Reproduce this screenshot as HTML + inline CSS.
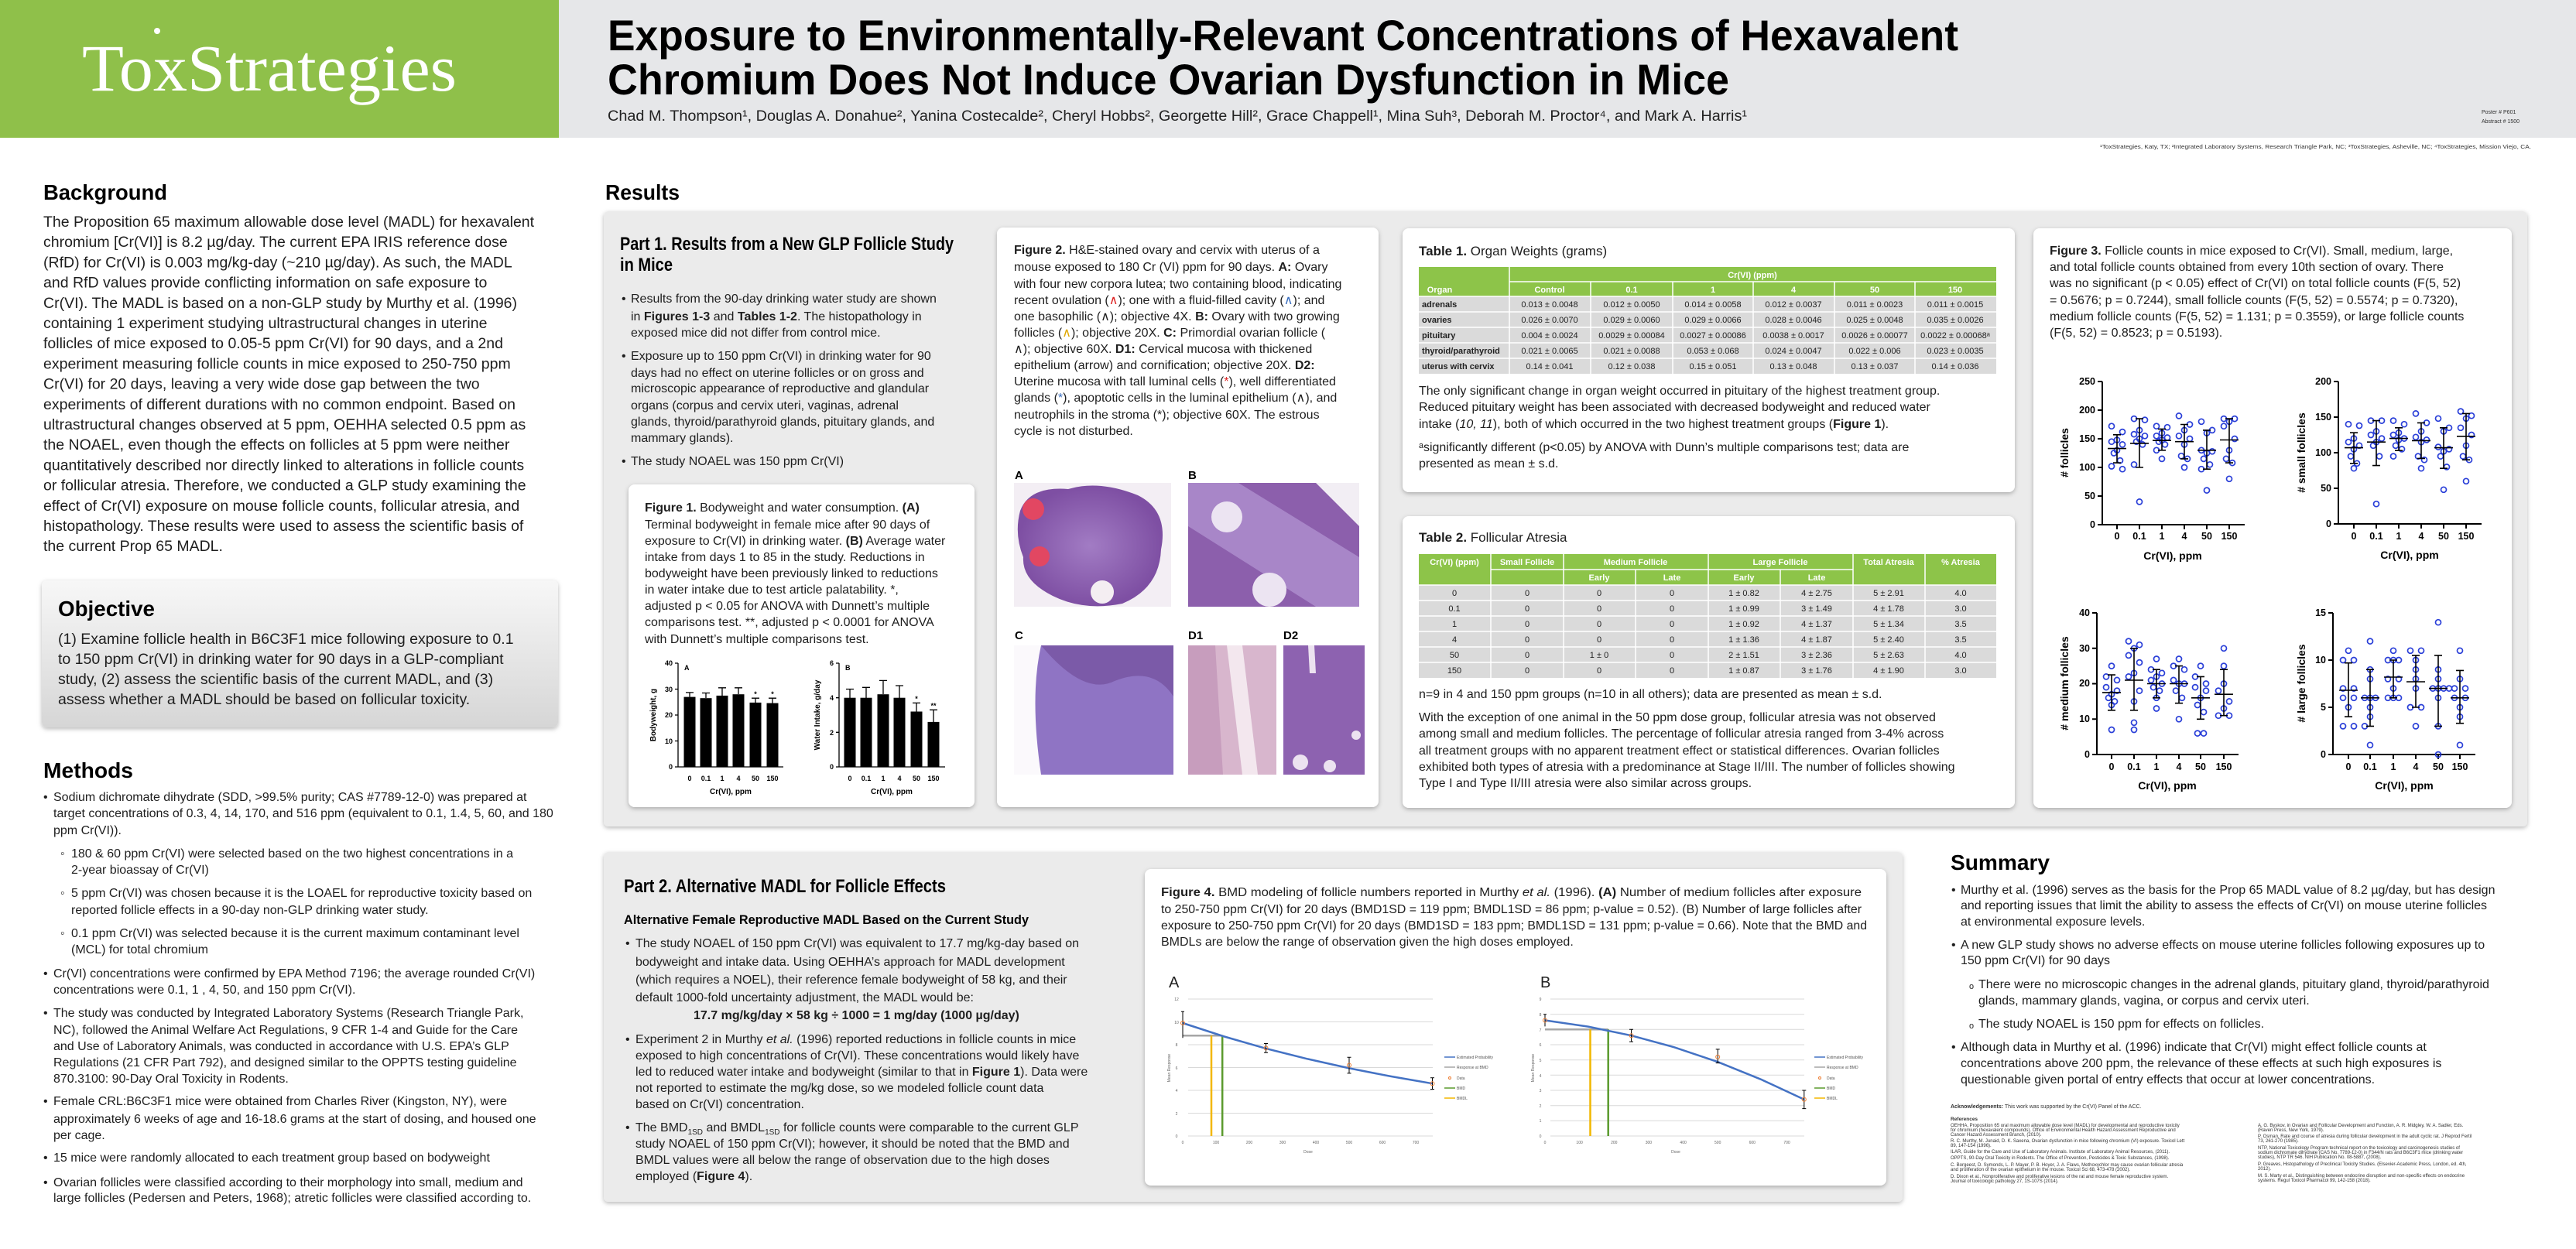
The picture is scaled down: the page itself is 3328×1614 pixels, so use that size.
<!DOCTYPE html>
<html><head><meta charset="utf-8"><style>
html,body{margin:0;padding:0;background:#fff;}
svg{display:block;font-family:"Liberation Sans",sans-serif;}
.t{font-size:16px;fill:#1e1e1e}
.bg{font-size:19.5px;fill:#1e1e1e}
.h{font-weight:bold;fill:#000}
.c{fill:none;stroke:#2a3fd8;stroke-width:1.7}
.m{fill:none;stroke:#000;stroke-width:1.6}
.tk{font-size:12.5px;font-weight:bold;text-anchor:end}
.tx{font-size:12.5px;font-weight:bold;text-anchor:middle}
.tw{font-size:11px;font-weight:bold;fill:#fff;text-anchor:middle}
.td{font-size:11px;fill:#222;text-anchor:middle}
.tl{font-size:11px;font-weight:bold;fill:#222}
.sm{font-size:9px;fill:#222}
.ref{font-size:6px;fill:#333}
.lg{font-size:5px;fill:#555}
</style></head><body>
<svg width="3328" height="1614" viewBox="0 0 3328 1614" xmlns="http://www.w3.org/2000/svg">
<defs>
<filter id="sh" x="-5%" y="-5%" width="110%" height="115%"><feDropShadow dx="0" dy="2" stdDeviation="3" flood-color="#000" flood-opacity="0.28"/></filter>
<linearGradient id="og" x1="0" y1="0" x2="0" y2="1"><stop offset="0" stop-color="#f7f7f7"/><stop offset="1" stop-color="#d6d6d6"/></linearGradient>
<radialGradient id="ov" cx="0.5" cy="0.5" r="0.5"><stop offset="0" stop-color="#a27cc4"/><stop offset="1" stop-color="#7e4fa3"/></radialGradient>
</defs>
<!-- header -->
<rect x="0" y="0" width="722" height="178" fill="#8fc04a"/>
<rect x="722" y="0" width="2606" height="178" fill="#e6e7e9"/>
<text x="106" y="117" font-family="Liberation Serif,serif" font-size="86" fill="#fff" textLength="484" lengthAdjust="spacingAndGlyphs">ToxStrategies</text>
<circle cx="203" cy="40" r="4" fill="#fff"/>
<text x="785" y="65" class="h" font-size="56" textLength="1745" lengthAdjust="spacingAndGlyphs">Exposure to Environmentally-Relevant Concentrations of Hexavalent</text>
<text x="785" y="122" class="h" font-size="56" textLength="1449" lengthAdjust="spacingAndGlyphs">Chromium Does Not Induce Ovarian Dysfunction in Mice</text>
<text x="785" y="156" font-size="19" fill="#222" textLength="1472" lengthAdjust="spacingAndGlyphs">Chad M. Thompson¹, Douglas A. Donahue², Yanina Costecalde², Cheryl Hobbs², Georgette Hill², Grace Chappell¹, Mina Suh³, Deborah M. Proctor⁴, and Mark A. Harris¹</text>
<text x="3206" y="147" font-size="7" fill="#333">Poster # P601</text>
<text x="3206" y="159" font-size="7" fill="#333">Abstract # 1500</text>
<text x="2713" y="192" font-size="7.5" fill="#333" textLength="557" lengthAdjust="spacingAndGlyphs">¹ToxStrategies, Katy, TX; ²Integrated Laboratory Systems, Research Triangle Park, NC; ³ToxStrategies, Asheville, NC; ⁴ToxStrategies, Mission Viejo, CA.</text>

<!-- Background -->
<text x="56" y="258" class="h" font-size="28" textLength="160" lengthAdjust="spacingAndGlyphs">Background</text>
<g class="bg">
<text x="56" y="293">The Proposition 65 maximum allowable dose level (MADL) for hexavalent</text>
<text x="56" y="319.2">chromium [Cr(VI)] is 8.2 µg/day. The current EPA IRIS reference dose</text>
<text x="56" y="345.4">(RfD) for Cr(VI) is 0.003 mg/kg-day (~210 µg/day). As such, the MADL</text>
<text x="56" y="371.6">and RfD values provide conflicting information on safe exposure to</text>
<text x="56" y="397.8">Cr(VI). The MADL is based on a non-GLP study by Murthy et al. (1996)</text>
<text x="56" y="424">containing 1 experiment studying ultrastructural changes in uterine</text>
<text x="56" y="450.2">follicles of mice exposed to 0.05-5 ppm Cr(VI) for 90 days, and a 2nd</text>
<text x="56" y="476.4">experiment measuring follicle counts in mice exposed to 250-750 ppm</text>
<text x="56" y="502.6">Cr(VI) for 20 days, leaving a very wide dose gap between the two</text>
<text x="56" y="528.8">experiments of different durations with no common endpoint. Based on</text>
<text x="56" y="555">ultrastructural changes observed at 5 ppm, OEHHA selected 0.5 ppm as</text>
<text x="56" y="581.2">the NOAEL, even though the effects on follicles at 5 ppm were neither</text>
<text x="56" y="607.4">quantitatively described nor directly linked to alterations in follicle counts</text>
<text x="56" y="633.6">or follicular atresia. Therefore, we conducted a GLP study examining the</text>
<text x="56" y="659.8">effect of Cr(VI) exposure on mouse follicle counts, follicular atresia, and</text>
<text x="56" y="686">histopathology. These results were used to assess the scientific basis of</text>
<text x="56" y="712.2">the current Prop 65 MADL.</text>
</g>
<!-- Objective -->
<rect x="54" y="750" width="667" height="190" rx="7" fill="url(#og)" filter="url(#sh)"/>
<text x="75" y="796" class="h" font-size="28" textLength="125" lengthAdjust="spacingAndGlyphs">Objective</text>
<g class="bg">
<text x="75" y="832">(1) Examine follicle health in B6C3F1 mice following exposure to 0.1</text>
<text x="75" y="858">to 150 ppm Cr(VI) in drinking water for 90 days in a GLP-compliant</text>
<text x="75" y="884">study, (2) assess the scientific basis of the current MADL, and (3)</text>
<text x="75" y="910">assess whether a MADL should be based on follicular toxicity.</text>
</g>
<!-- Methods -->
<text x="56" y="1005" class="h" font-size="28" textLength="116" lengthAdjust="spacingAndGlyphs">Methods</text>
<g class="t">
<text x="56" y="1035">•</text><text x="69" y="1035">Sodium dichromate dihydrate (SDD, &gt;99.5% purity; CAS #7789-12-0) was prepared at</text>
<text x="69" y="1056">target concentrations of 0.3, 4, 14, 170, and 516 ppm (equivalent to 0.1, 1.4, 5, 60, and 180</text>
<text x="69" y="1078">ppm Cr(VI)).</text>
<text x="78" y="1108">◦</text><text x="92" y="1108">180 &amp; 60 ppm Cr(VI) were selected based on the two highest concentrations in a</text>
<text x="92" y="1129">2-year bioassay of Cr(VI)</text>
<text x="78" y="1159">◦</text><text x="92" y="1159">5 ppm Cr(VI) was chosen because it is the LOAEL for reproductive toxicity based on</text>
<text x="92" y="1181">reported follicle effects in a 90-day non-GLP drinking water study.</text>
<text x="78" y="1211">◦</text><text x="92" y="1211">0.1 ppm Cr(VI) was selected because it is the current maximum contaminant level</text>
<text x="92" y="1232">(MCL) for total chromium</text>
<text x="56" y="1263">•</text><text x="69" y="1263">Cr(VI) concentrations were confirmed by EPA Method 7196;  the average rounded Cr(VI)</text>
<text x="69" y="1284">concentrations were 0.1, 1 , 4,  50, and 150 ppm Cr(VI).</text>
<text x="56" y="1314">•</text><text x="69" y="1314">The study was conducted by Integrated Laboratory Systems (Research Triangle Park,</text>
<text x="69" y="1336">NC),  followed the Animal Welfare Act Regulations, 9 CFR 1-4 and Guide for the Care</text>
<text x="69" y="1357">and Use of Laboratory Animals, was conducted in accordance with U.S. EPA’s GLP</text>
<text x="69" y="1378">Regulations (21 CFR Part 792), and designed similar to the OPPTS testing guideline</text>
<text x="69" y="1399">870.3100: 90-Day Oral Toxicity in Rodents.</text>
<text x="56" y="1428">•</text><text x="69" y="1428">Female CRL:B6C3F1 mice were obtained from Charles River (Kingston, NY), were</text>
<text x="69" y="1451">approximately 6 weeks of age and 16-18.6 grams at the start of dosing, and housed one</text>
<text x="69" y="1472">per cage.</text>
<text x="56" y="1501">•</text><text x="69" y="1501">15 mice were randomly allocated to each treatment group based on bodyweight</text>
<text x="56" y="1533">•</text><text x="69" y="1533">Ovarian follicles were classified according to their morphology into small, medium and</text>
<text x="69" y="1553">large follicles (Pedersen and Peters, 1968); atretic follicles were classified according to.</text>
</g>

<!-- Results -->
<text x="782" y="258" class="h" font-size="28" textLength="96" lengthAdjust="spacingAndGlyphs">Results</text>
<rect x="780" y="273" width="2485" height="795" rx="6" fill="#ebebeb" filter="url(#sh)"/>
<text x="801" y="323" class="h" font-size="24" textLength="431" lengthAdjust="spacingAndGlyphs">Part 1. Results from a New GLP Follicle Study</text>
<text x="801" y="350" class="h" font-size="24" textLength="68" lengthAdjust="spacingAndGlyphs">in Mice</text>
<g class="t">
<text x="803" y="391">•</text><text x="815" y="391">Results from the 90-day drinking water study are shown</text>
<text x="815" y="414">in <tspan font-weight="bold">Figures 1-3</tspan> and <tspan font-weight="bold">Tables 1-2</tspan>. The histopathology in</text>
<text x="815" y="435">exposed mice did not differ from control mice.</text>
<text x="803" y="465">•</text><text x="815" y="465">Exposure up to 150 ppm Cr(VI) in drinking water for 90</text>
<text x="815" y="487">days had no effect on uterine follicles or on gross and</text>
<text x="815" y="507">microscopic appearance of reproductive and glandular</text>
<text x="815" y="529">organs (corpus and cervix uteri, vaginas, adrenal</text>
<text x="815" y="550">glands, thyroid/parathyroid glands, pituitary glands, and</text>
<text x="815" y="571">mammary glands).</text>
<text x="803" y="601">•</text><text x="815" y="601">The study NOAEL was 150 ppm Cr(VI)</text>
</g>
<!-- Figure 1 -->
<rect x="812" y="626" width="447" height="417" rx="8" fill="#fff" filter="url(#sh)"/>
<g class="t">
<text x="833" y="661"><tspan font-weight="bold">Figure 1.</tspan> Bodyweight and water consumption. <tspan font-weight="bold">(A)</tspan></text>
<text x="833" y="683">Terminal bodyweight in female mice after 90 days of</text>
<text x="833" y="704">exposure to Cr(VI) in drinking water. <tspan font-weight="bold">(B)</tspan> Average water</text>
<text x="833" y="725">intake from days 1 to 85 in the study. Reductions in</text>
<text x="833" y="746">bodyweight have been previously linked to reductions</text>
<text x="833" y="767">in water intake due to test article palatability. *,</text>
<text x="833" y="788">adjusted p &lt; 0.05 for ANOVA with Dunnett’s multiple</text>
<text x="833" y="809">comparisons test. **, adjusted p &lt; 0.0001 for ANOVA</text>
<text x="833" y="831">with Dunnett’s multiple comparisons test.</text>
</g>
<g stroke="#000" stroke-width="1.3">
<path d="M876 857V991H1012M872 857H876M872 890.5H876M872 924H876M872 957.5H876M872 991H876" fill="none"/>
<path d="M1084 857V991H1221M1080 857H1084M1080 901.7H1084M1080 946.3H1084M1080 991H1084" fill="none"/>
<path d="M891 894.9V900.6M886 894.9H896M912 895.5V902M907 895.5H917M933 888.8V899M928 888.8H938M954 888.8V897M949 888.8H959M976 902.2V908M971 902.2H981M998 902.2V909M993 902.2H1003" fill="none"/>
<path d="M1098 890.5V902M1093 890.5H1103M1119 888.3V902M1114 888.3H1124M1141 879.4V897M1136 879.4H1146M1162 886V902M1157 886H1167M1184 908.4V920M1179 908.4H1189M1206 917.3V933M1201 917.3H1211" fill="none"/>
</g>
<g fill="#000">
<rect x="883.5" y="900.6" width="15" height="90.4"/><rect x="904.5" y="902.2" width="15" height="88.8"/><rect x="925.5" y="898.9" width="15" height="92.1"/><rect x="946.5" y="897.2" width="15" height="93.8"/><rect x="968.5" y="907.9" width="15" height="83.1"/><rect x="990.5" y="908.6" width="15" height="82.4"/>
<rect x="1090.5" y="901.7" width="15" height="89.3"/><rect x="1111.5" y="901.7" width="15" height="89.3"/><rect x="1133.5" y="897.2" width="15" height="93.8"/><rect x="1154.5" y="901.7" width="15" height="89.3"/><rect x="1176.5" y="919.5" width="15" height="71.5"/><rect x="1198.5" y="932.9" width="15" height="58.1"/>
</g>
<g font-size="9" font-weight="bold" fill="#000">
<text x="869" y="860" text-anchor="end">40</text><text x="869" y="894" text-anchor="end">30</text><text x="869" y="927" text-anchor="end">20</text><text x="869" y="961" text-anchor="end">10</text><text x="869" y="994" text-anchor="end">0</text>
<text x="1077" y="860" text-anchor="end">6</text><text x="1077" y="905" text-anchor="end">4</text><text x="1077" y="950" text-anchor="end">2</text><text x="1077" y="994" text-anchor="end">0</text>
<text x="884" y="866">A</text><text x="1092" y="866">B</text>
<g text-anchor="middle"><text x="891" y="1009">0</text><text x="912" y="1009">0.1</text><text x="933" y="1009">1</text><text x="954" y="1009">4</text><text x="976" y="1009">50</text><text x="998" y="1009">150</text>
<text x="1098" y="1009">0</text><text x="1119" y="1009">0.1</text><text x="1141" y="1009">1</text><text x="1162" y="1009">4</text><text x="1184" y="1009">50</text><text x="1206" y="1009">150</text>
<text x="944" y="1026" font-size="10">Cr(VI), ppm</text><text x="1152" y="1026" font-size="10">Cr(VI), ppm</text>
<text x="976" y="900">*</text><text x="998" y="900">*</text><text x="1184" y="906">*</text><text x="1206" y="915">**</text></g>
<text transform="translate(847,924) rotate(-90)" text-anchor="middle" font-size="10">Bodyweight, g</text>
<text transform="translate(1059,924) rotate(-90)" text-anchor="middle" font-size="10">Water Intake, g/day</text>
</g>

<!-- Figure 2 -->
<rect x="1288" y="294" width="493" height="749" rx="8" fill="#fff" filter="url(#sh)"/>
<g class="t">
<text x="1310" y="328"><tspan font-weight="bold">Figure 2.</tspan> H&amp;E-stained ovary and cervix with uterus of a</text>
<text x="1310" y="350">mouse exposed to 180 Cr (VI) ppm for 90 days. <tspan font-weight="bold">A:</tspan> Ovary</text>
<text x="1310" y="372">with four new corpora lutea; two containing blood, indicating</text>
<text x="1310" y="393">recent ovulation (<tspan fill="#d22">∧</tspan>); one with a fluid-filled cavity (<tspan fill="#3a6fc0">∧</tspan>); and</text>
<text x="1310" y="414">one basophilic (∧); objective 4X. <tspan font-weight="bold">B:</tspan> Ovary with two growing</text>
<text x="1310" y="435">follicles (<tspan fill="#e0a800">∧</tspan>); objective 20X. <tspan font-weight="bold">C:</tspan> Primordial ovarian follicle (</text>
<text x="1310" y="456">∧); objective 60X. <tspan font-weight="bold">D1:</tspan> Cervical mucosa with thickened</text>
<text x="1310" y="477">epithelium (arrow) and cornification; objective 20X. <tspan font-weight="bold">D2:</tspan></text>
<text x="1310" y="498">Uterine mucosa with tall luminal cells (<tspan fill="#d22">*</tspan>), well differentiated</text>
<text x="1310" y="519">glands (<tspan fill="#3a6fc0">*</tspan>), apoptotic cells in the luminal epithelium (∧), and</text>
<text x="1310" y="541">neutrophils in the stroma (*); objective 60X. The estrous</text>
<text x="1310" y="562">cycle is not disturbed.</text>
</g>
<g class="h" font-size="15">
<text x="1311" y="619">A</text><text x="1535" y="619">B</text><text x="1311" y="826">C</text><text x="1535" y="826">D1</text><text x="1658" y="826">D2</text>
</g>
<rect x="1310" y="624" width="203" height="160" fill="#f3eef4"/>
<path d="M1318 660 Q1330 628 1380 632 Q1420 620 1470 640 Q1510 660 1500 710 Q1498 760 1450 780 Q1400 790 1360 770 Q1320 750 1322 720 Q1310 690 1318 660Z" fill="url(#ov)"/>
<circle cx="1335" cy="658" r="14" fill="#e24762"/><circle cx="1343" cy="719" r="13" fill="#e24762"/><circle cx="1424" cy="765" r="15" fill="#f4eef2"/>
<rect x="1535" y="624" width="221" height="160" fill="#8c5fac"/>
<path d="M1535 624 L1600 624 L1756 720 L1756 784 L1700 784 L1535 680Z" fill="#a886c8"/>
<circle cx="1585" cy="668" r="20" fill="#ece4f2"/><circle cx="1640" cy="762" r="22" fill="#ece4f2"/>
<path d="M1700 624 L1756 624 L1756 680Z" fill="#f2eef4"/>
<rect x="1310" y="834" width="206" height="167" fill="#8f74c4"/>
<path d="M1310 834 L1345 834 Q1330 900 1345 1001 L1310 1001Z" fill="#fbf9fc"/>
<path d="M1345 834 Q1400 900 1440 880 Q1490 860 1516 900 L1516 834Z" fill="#7b5aa8"/>
<rect x="1535" y="834" width="114" height="167" fill="#d8b6cd"/>
<path d="M1585 834 L1605 834 L1625 1001 L1605 1001Z" fill="#f3e7ee"/>
<path d="M1535 834 L1570 834 L1580 1001 L1535 1001Z" fill="#c79dbd"/>
<rect x="1658" y="834" width="105" height="167" fill="#8d62b0"/>
<circle cx="1680" cy="985" r="10" fill="#ece2f0"/><circle cx="1752" cy="950" r="6" fill="#ece2f0"/><circle cx="1718" cy="990" r="8" fill="#ece2f0"/>
<path d="M1690 834 L1698 834 L1700 870 L1692 870Z" fill="#ece2f0"/>

<!-- Table 1 -->
<rect x="1812" y="295" width="791" height="341" rx="8" fill="#fff" filter="url(#sh)"/>
<text x="1833" y="330" font-size="17" fill="#1e1e1e"><tspan font-weight="bold">Table 1.</tspan> Organ Weights (grams)</text>
<rect x="1833" y="345" width="746" height="38" fill="#8dc449"/>
<rect x="1833" y="383" width="746" height="100" fill="#dadada"/>
<g stroke="#fff" stroke-width="1.5">
<path d="M1950 345V483M2055 364V483M2161 364V483M2265 364V483M2370 364V483M2474 364V483M1950 364H2579M1833 383H2579M1833 403H2579M1833 423H2579M1833 443H2579M1833 463H2579"/>
</g>
<text class="tw" x="2264" y="359">Cr(VI) (ppm)</text>
<g class="tw"><text x="1860" y="378">Organ</text><text x="2002" y="378">Control</text><text x="2108" y="378">0.1</text><text x="2213" y="378">1</text><text x="2317" y="378">4</text><text x="2422" y="378">50</text><text x="2526" y="378">150</text></g>
<g class="tl"><text x="1837" y="397">adrenals</text><text x="1837" y="417">ovaries</text><text x="1837" y="437">pituitary</text><text x="1837" y="457">thyroid/parathyroid</text><text x="1837" y="477">uterus with cervix</text></g>
<g class="td">
<text x="2002" y="397">0.013 ± 0.0048</text><text x="2108" y="397">0.012 ± 0.0050</text><text x="2213" y="397">0.014 ± 0.0058</text><text x="2317" y="397">0.012 ± 0.0037</text><text x="2422" y="397">0.011 ± 0.0023</text><text x="2526" y="397">0.011 ± 0.0015</text>
<text x="2002" y="417">0.026 ± 0.0070</text><text x="2108" y="417">0.029 ± 0.0060</text><text x="2213" y="417">0.029 ± 0.0066</text><text x="2317" y="417">0.028 ± 0.0046</text><text x="2422" y="417">0.025 ± 0.0048</text><text x="2526" y="417">0.035 ± 0.0026</text>
<text x="2002" y="437">0.004 ± 0.0024</text><text x="2108" y="437">0.0029 ± 0.00084</text><text x="2213" y="437">0.0027 ± 0.00086</text><text x="2317" y="437">0.0038 ± 0.0017</text><text x="2422" y="437">0.0026 ± 0.00077</text><text x="2526" y="437">0.0022 ± 0.00068ᵃ</text>
<text x="2002" y="457">0.021 ± 0.0065</text><text x="2108" y="457">0.021 ± 0.0088</text><text x="2213" y="457">0.053 ± 0.068</text><text x="2317" y="457">0.024 ± 0.0047</text><text x="2422" y="457">0.022 ± 0.006</text><text x="2526" y="457">0.023 ± 0.0035</text>
<text x="2002" y="477">0.14 ± 0.041</text><text x="2108" y="477">0.12 ± 0.038</text><text x="2213" y="477">0.15 ± 0.051</text><text x="2317" y="477">0.13 ± 0.048</text><text x="2422" y="477">0.13 ± 0.037</text><text x="2526" y="477">0.14 ± 0.036</text>
</g>
<g class="t">
<text x="1833" y="510">The only significant change in organ weight occurred in pituitary of the highest treatment group.</text>
<text x="1833" y="531">Reduced pituitary weight has been associated with decreased bodyweight and reduced water</text>
<text x="1833" y="553">intake (<tspan font-style="italic">10, 11</tspan>), both of which occurred in the two highest treatment groups (<tspan font-weight="bold">Figure 1</tspan>).</text>
<text x="1833" y="583">ᵃsignificantly different (p&lt;0.05) by ANOVA with Dunn’s multiple comparisons test; data are</text>
<text x="1833" y="604">presented as mean ± s.d.</text>
</g>

<!-- Table 2 -->
<rect x="1812" y="667" width="791" height="377" rx="8" fill="#fff" filter="url(#sh)"/>
<text x="1833" y="700" font-size="17" fill="#1e1e1e"><tspan font-weight="bold">Table 2.</tspan> Follicular Atresia</text>
<rect x="1833" y="716" width="746" height="40" fill="#8dc449"/>
<rect x="1833" y="756" width="746" height="120" fill="#dadada"/>
<g stroke="#fff" stroke-width="1.5">
<path d="M1926 716V876M2020 716V876M2113 736V876M2207 716V876M2300 736V876M2394 716V876M2487 716V876M1926 736H2394M1833 756H2579M1833 776H2579M1833 796H2579M1833 816H2579M1833 836H2579M1833 856H2579"/>
</g>
<g class="tw"><text x="1879" y="730">Cr(VI) (ppm)</text><text x="1973" y="730">Small Follicle</text><text x="2113" y="730">Medium Follicle</text><text x="2300" y="730">Large Follicle</text><text x="2440" y="730">Total Atresia</text><text x="2533" y="730">% Atresia</text>
<text x="2066" y="750">Early</text><text x="2160" y="750">Late</text><text x="2253" y="750">Early</text><text x="2347" y="750">Late</text></g>
<g class="td">
<text x="1879" y="770">0</text><text x="1973" y="770">0</text><text x="2066" y="770">0</text><text x="2160" y="770">0</text><text x="2253" y="770">1 ± 0.82</text><text x="2347" y="770">4 ± 2.75</text><text x="2440" y="770">5 ± 2.91</text><text x="2533" y="770">4.0</text>
<text x="1879" y="790">0.1</text><text x="1973" y="790">0</text><text x="2066" y="790">0</text><text x="2160" y="790">0</text><text x="2253" y="790">1 ± 0.99</text><text x="2347" y="790">3 ± 1.49</text><text x="2440" y="790">4 ± 1.78</text><text x="2533" y="790">3.0</text>
<text x="1879" y="810">1</text><text x="1973" y="810">0</text><text x="2066" y="810">0</text><text x="2160" y="810">0</text><text x="2253" y="810">1 ± 0.92</text><text x="2347" y="810">4 ± 1.37</text><text x="2440" y="810">5 ± 1.34</text><text x="2533" y="810">3.5</text>
<text x="1879" y="830">4</text><text x="1973" y="830">0</text><text x="2066" y="830">0</text><text x="2160" y="830">0</text><text x="2253" y="830">1 ± 1.36</text><text x="2347" y="830">4 ± 1.87</text><text x="2440" y="830">5 ± 2.40</text><text x="2533" y="830">3.5</text>
<text x="1879" y="850">50</text><text x="1973" y="850">0</text><text x="2066" y="850">1 ± 0</text><text x="2160" y="850">0</text><text x="2253" y="850">2 ± 1.51</text><text x="2347" y="850">3 ± 2.36</text><text x="2440" y="850">5 ± 2.63</text><text x="2533" y="850">4.0</text>
<text x="1879" y="870">150</text><text x="1973" y="870">0</text><text x="2066" y="870">0</text><text x="2160" y="870">0</text><text x="2253" y="870">1 ± 0.87</text><text x="2347" y="870">3 ± 1.76</text><text x="2440" y="870">4 ± 1.90</text><text x="2533" y="870">3.0</text>
</g>
<g class="t">
<text x="1833" y="902">n=9 in 4 and 150 ppm groups (n=10 in all others); data are presented as mean ± s.d.</text>
<text x="1833" y="932">With the exception of one animal in the 50 ppm dose group, follicular atresia was not observed</text>
<text x="1833" y="953">among small and medium follicles. The percentage of follicular atresia ranged from 3-4% across</text>
<text x="1833" y="975">all treatment groups with no apparent treatment effect or statistical differences. Ovarian follicles</text>
<text x="1833" y="996">exhibited both types of atresia with a predominance at Stage II/III. The number of follicles showing</text>
<text x="1833" y="1017">Type I and Type II/III atresia were also similar across groups.</text>
</g>

<!-- Figure 3 -->
<rect x="2627" y="295" width="618" height="749" rx="8" fill="#fff" filter="url(#sh)"/>
<g class="t">
<text x="2648" y="329"><tspan font-weight="bold">Figure 3.</tspan> Follicle counts in mice exposed to Cr(VI).  Small, medium, large,</text>
<text x="2648" y="350">and total follicle counts obtained from every 10th section of ovary. There</text>
<text x="2648" y="371">was no significant (p &lt; 0.05) effect of Cr(VI) on total follicle counts (F(5, 52)</text>
<text x="2648" y="393">= 0.5676; p = 0.7244), small follicle counts (F(5, 52) = 0.5574; p = 0.7320),</text>
<text x="2648" y="414">medium follicle counts (F(5, 52) = 1.131; p = 0.3559), or large follicle counts</text>
<text x="2648" y="435">(F(5, 52) = 0.8523; p = 0.5193).</text>
</g>
<g stroke="#000" stroke-width="2" fill="none">
<path d="M2716 493V678H2900M2710 493H2716M2710 530H2716M2710 567H2716M2710 604H2716M2710 641H2716M2710 678H2716M2735 678V684M2764 678V684M2793 678V684M2822 678V684M2851 678V684M2880 678V684"/>
<path d="M3021 493V677H3206M3015 493H3021M3015 539H3021M3015 585H3021M3015 631H3021M3015 677H3021M3041 677V683M3070 677V683M3099 677V683M3128 677V683M3157 677V683M3186 677V683"/>
<path d="M2709 792V975H2892M2703 792H2709M2703 837.8H2709M2703 883.5H2709M2703 929.3H2709M2703 975H2709M2728 975V981M2757 975V981M2786 975V981M2815 975V981M2843 975V981M2873 975V981"/>
<path d="M3014 792V975H3198M3008 792H3014M3008 853H3014M3008 914H3014M3008 975H3014M3034 975V981M3062 975V981M3092 975V981M3121 975V981M3150 975V981M3178 975V981"/>
</g>
<g fill="#000">
<g class="tk"><text x="2707" y="497">250</text><text x="2707" y="534">200</text><text x="2707" y="571">150</text><text x="2707" y="608">100</text><text x="2707" y="645">50</text><text x="2707" y="682">0</text>
<text x="3012" y="497">200</text><text x="3012" y="543">150</text><text x="3012" y="589">100</text><text x="3012" y="635">50</text><text x="3012" y="681">0</text>
<text x="2700" y="796">40</text><text x="2700" y="842">30</text><text x="2700" y="887">20</text><text x="2700" y="933">10</text><text x="2700" y="979">0</text>
<text x="3005" y="796">15</text><text x="3005" y="857">10</text><text x="3005" y="918">5</text><text x="3005" y="979">0</text></g>
<g class="tx"><text x="2735" y="697">0</text><text x="2764" y="697">0.1</text><text x="2793" y="697">1</text><text x="2822" y="697">4</text><text x="2851" y="697">50</text><text x="2880" y="697">150</text>
<text x="3041" y="697">0</text><text x="3070" y="697">0.1</text><text x="3099" y="697">1</text><text x="3128" y="697">4</text><text x="3157" y="697">50</text><text x="3186" y="697">150</text>
<text x="2728" y="995">0</text><text x="2757" y="995">0.1</text><text x="2786" y="995">1</text><text x="2815" y="995">4</text><text x="2843" y="995">50</text><text x="2873" y="995">150</text>
<text x="3034" y="995">0</text><text x="3062" y="995">0.1</text><text x="3092" y="995">1</text><text x="3121" y="995">4</text><text x="3150" y="995">50</text><text x="3178" y="995">150</text></g>
<g font-size="14" font-weight="bold" text-anchor="middle">
<text x="2807" y="723">Cr(VI), ppm</text><text x="3113" y="722">Cr(VI), ppm</text><text x="2800" y="1020">Cr(VI), ppm</text><text x="3106" y="1020">Cr(VI), ppm</text>
<text transform="translate(2672,585) rotate(-90)"># follicles</text>
<text transform="translate(2978,585) rotate(-90)"># small follicles</text>
<text transform="translate(2672,883) rotate(-90)"># medium follicles</text>
<text transform="translate(2978,883) rotate(-90)"># large follicles</text>
</g>
</g>
<g class="c">
<circle cx="2728" cy="550.7" r="3.5"/><circle cx="2742" cy="558.1" r="3.5"/><circle cx="2735" cy="568.5" r="3.5"/><circle cx="2728" cy="570.7" r="3.5"/><circle cx="2742" cy="574.4" r="3.5"/><circle cx="2735" cy="581.8" r="3.5"/><circle cx="2731" cy="585.5" r="3.5"/><circle cx="2739" cy="595.1" r="3.5"/><circle cx="2728" cy="602.5" r="3.5"/><circle cx="2742" cy="606.2" r="3.5"/>
<circle cx="2757" cy="541.1" r="3.5"/><circle cx="2771" cy="542.6" r="3.5"/><circle cx="2764" cy="555.9" r="3.5"/><circle cx="2757" cy="561.1" r="3.5"/><circle cx="2771" cy="563.3" r="3.5"/><circle cx="2764" cy="567" r="3.5"/><circle cx="2760" cy="570.7" r="3.5"/><circle cx="2768" cy="574.4" r="3.5"/><circle cx="2757" cy="600.3" r="3.5"/><circle cx="2764" cy="648.4" r="3.5"/>
<circle cx="2786" cy="550.7" r="3.5"/><circle cx="2800" cy="552.2" r="3.5"/><circle cx="2793" cy="559.6" r="3.5"/><circle cx="2786" cy="563.3" r="3.5"/><circle cx="2800" cy="565.5" r="3.5"/><circle cx="2793" cy="568.5" r="3.5"/><circle cx="2789" cy="570.7" r="3.5"/><circle cx="2797" cy="574.4" r="3.5"/><circle cx="2786" cy="581.8" r="3.5"/><circle cx="2793" cy="592.9" r="3.5"/>
<circle cx="2815" cy="537.4" r="3.5"/><circle cx="2829" cy="548.5" r="3.5"/><circle cx="2822" cy="555.9" r="3.5"/><circle cx="2815" cy="563.3" r="3.5"/><circle cx="2829" cy="567" r="3.5"/><circle cx="2822" cy="574.4" r="3.5"/><circle cx="2818" cy="589.2" r="3.5"/><circle cx="2826" cy="592.9" r="3.5"/><circle cx="2822" cy="604" r="3.5"/>
<circle cx="2844" cy="544.8" r="3.5"/><circle cx="2858" cy="555.9" r="3.5"/><circle cx="2851" cy="559.6" r="3.5"/><circle cx="2844" cy="581.8" r="3.5"/><circle cx="2858" cy="583.3" r="3.5"/><circle cx="2851" cy="585.5" r="3.5"/><circle cx="2847" cy="592.9" r="3.5"/><circle cx="2855" cy="600.3" r="3.5"/><circle cx="2844" cy="606.2" r="3.5"/><circle cx="2851" cy="633.6" r="3.5"/>
<circle cx="2873" cy="541.1" r="3.5"/><circle cx="2887" cy="541.1" r="3.5"/><circle cx="2880" cy="544.8" r="3.5"/><circle cx="2873" cy="550.7" r="3.5"/><circle cx="2887" cy="567" r="3.5"/><circle cx="2880" cy="581.8" r="3.5"/><circle cx="2876" cy="592.9" r="3.5"/><circle cx="2884" cy="598.1" r="3.5"/><circle cx="2880" cy="618.8" r="3.5"/>
<circle cx="3034" cy="548.2" r="3.5"/><circle cx="3048" cy="550" r="3.5"/><circle cx="3041" cy="566.6" r="3.5"/><circle cx="3034" cy="571.2" r="3.5"/><circle cx="3048" cy="575.8" r="3.5"/><circle cx="3041" cy="580.4" r="3.5"/><circle cx="3037" cy="589.6" r="3.5"/><circle cx="3045" cy="598.8" r="3.5"/><circle cx="3041" cy="605.2" r="3.5"/>
<circle cx="3063" cy="543.6" r="3.5"/><circle cx="3077" cy="543.6" r="3.5"/><circle cx="3070" cy="557.4" r="3.5"/><circle cx="3063" cy="562" r="3.5"/><circle cx="3077" cy="566.6" r="3.5"/><circle cx="3070" cy="571.2" r="3.5"/><circle cx="3066" cy="575.8" r="3.5"/><circle cx="3074" cy="589.6" r="3.5"/><circle cx="3070" cy="651.2" r="3.5"/>
<circle cx="3092" cy="543.6" r="3.5"/><circle cx="3106" cy="548.2" r="3.5"/><circle cx="3099" cy="559.2" r="3.5"/><circle cx="3092" cy="562" r="3.5"/><circle cx="3106" cy="566.6" r="3.5"/><circle cx="3099" cy="568.4" r="3.5"/><circle cx="3095" cy="575.8" r="3.5"/><circle cx="3103" cy="580.4" r="3.5"/><circle cx="3092" cy="589.6" r="3.5"/>
<circle cx="3121" cy="534.4" r="3.5"/><circle cx="3135" cy="546.4" r="3.5"/><circle cx="3128" cy="557.4" r="3.5"/><circle cx="3121" cy="564.8" r="3.5"/><circle cx="3135" cy="568.4" r="3.5"/><circle cx="3128" cy="571.2" r="3.5"/><circle cx="3124" cy="589.6" r="3.5"/><circle cx="3132" cy="594.2" r="3.5"/><circle cx="3128" cy="605.2" r="3.5"/>
<circle cx="3150" cy="540.8" r="3.5"/><circle cx="3164" cy="552.8" r="3.5"/><circle cx="3157" cy="557.4" r="3.5"/><circle cx="3150" cy="577.6" r="3.5"/><circle cx="3164" cy="580.4" r="3.5"/><circle cx="3157" cy="583.2" r="3.5"/><circle cx="3153" cy="589.6" r="3.5"/><circle cx="3161" cy="603.4" r="3.5"/><circle cx="3157" cy="632.8" r="3.5"/>
<circle cx="3179" cy="531.6" r="3.5"/><circle cx="3193" cy="537.2" r="3.5"/><circle cx="3186" cy="540.8" r="3.5"/><circle cx="3179" cy="552.8" r="3.5"/><circle cx="3193" cy="562" r="3.5"/><circle cx="3186" cy="575.8" r="3.5"/><circle cx="3182" cy="589.6" r="3.5"/><circle cx="3190" cy="594.2" r="3.5"/><circle cx="3186" cy="621.8" r="3.5"/>
<circle cx="2728" cy="860.6" r="3.5"/><circle cx="2721" cy="874.4" r="3.5"/><circle cx="2735" cy="878.9" r="3.5"/><circle cx="2721" cy="888.1" r="3.5"/><circle cx="2735" cy="892.6" r="3.5"/><circle cx="2728" cy="897.2" r="3.5"/><circle cx="2724" cy="901.8" r="3.5"/><circle cx="2732" cy="906.4" r="3.5"/><circle cx="2728" cy="911" r="3.5"/><circle cx="2728" cy="943" r="3.5"/>
<circle cx="2750" cy="828.6" r="3.5"/><circle cx="2764" cy="833.2" r="3.5"/><circle cx="2757" cy="837.8" r="3.5"/><circle cx="2750" cy="846.9" r="3.5"/><circle cx="2764" cy="856.1" r="3.5"/><circle cx="2757" cy="869.8" r="3.5"/><circle cx="2750" cy="874.4" r="3.5"/><circle cx="2764" cy="892.6" r="3.5"/><circle cx="2757" cy="906.4" r="3.5"/><circle cx="2757" cy="933.8" r="3.5"/><circle cx="2757" cy="943" r="3.5"/>
<circle cx="2786" cy="851.5" r="3.5"/><circle cx="2779" cy="865.2" r="3.5"/><circle cx="2793" cy="869.8" r="3.5"/><circle cx="2786" cy="874.4" r="3.5"/><circle cx="2779" cy="878.9" r="3.5"/><circle cx="2793" cy="883.5" r="3.5"/><circle cx="2782" cy="888.1" r="3.5"/><circle cx="2790" cy="892.6" r="3.5"/><circle cx="2786" cy="901.8" r="3.5"/><circle cx="2786" cy="915.5" r="3.5"/>
<circle cx="2815" cy="851.5" r="3.5"/><circle cx="2808" cy="860.6" r="3.5"/><circle cx="2822" cy="865.2" r="3.5"/><circle cx="2808" cy="878.9" r="3.5"/><circle cx="2822" cy="883.5" r="3.5"/><circle cx="2815" cy="883.5" r="3.5"/><circle cx="2811" cy="892.6" r="3.5"/><circle cx="2819" cy="901.8" r="3.5"/><circle cx="2815" cy="929.3" r="3.5"/>
<circle cx="2843" cy="860.6" r="3.5"/><circle cx="2836" cy="874.4" r="3.5"/><circle cx="2850" cy="883.5" r="3.5"/><circle cx="2836" cy="888.1" r="3.5"/><circle cx="2850" cy="892.6" r="3.5"/><circle cx="2843" cy="901.8" r="3.5"/><circle cx="2839" cy="911" r="3.5"/><circle cx="2847" cy="920.1" r="3.5"/><circle cx="2839" cy="947.6" r="3.5"/><circle cx="2847" cy="947.6" r="3.5"/>
<circle cx="2873" cy="837.8" r="3.5"/><circle cx="2873" cy="860.6" r="3.5"/><circle cx="2873" cy="883.5" r="3.5"/><circle cx="2866" cy="892.6" r="3.5"/><circle cx="2880" cy="906.4" r="3.5"/><circle cx="2873" cy="915.5" r="3.5"/><circle cx="2866" cy="924.7" r="3.5"/><circle cx="2880" cy="924.7" r="3.5"/>
<circle cx="3034" cy="840.8" r="3.5"/><circle cx="3027" cy="853" r="3.5"/><circle cx="3041" cy="853" r="3.5"/><circle cx="3027" cy="889.6" r="3.5"/><circle cx="3041" cy="889.6" r="3.5"/><circle cx="3027" cy="901.8" r="3.5"/><circle cx="3041" cy="901.8" r="3.5"/><circle cx="3034" cy="914" r="3.5"/><circle cx="3027" cy="938.4" r="3.5"/><circle cx="3041" cy="938.4" r="3.5"/>
<circle cx="3062" cy="828.6" r="3.5"/><circle cx="3062" cy="865.2" r="3.5"/><circle cx="3062" cy="877.4" r="3.5"/><circle cx="3055" cy="901.8" r="3.5"/><circle cx="3062" cy="901.8" r="3.5"/><circle cx="3069" cy="901.8" r="3.5"/><circle cx="3062" cy="914" r="3.5"/><circle cx="3062" cy="926.2" r="3.5"/><circle cx="3055" cy="938.4" r="3.5"/><circle cx="3062" cy="962.8" r="3.5"/>
<circle cx="3092" cy="840.8" r="3.5"/><circle cx="3085" cy="853" r="3.5"/><circle cx="3092" cy="853" r="3.5"/><circle cx="3099" cy="853" r="3.5"/><circle cx="3085" cy="877.4" r="3.5"/><circle cx="3099" cy="877.4" r="3.5"/><circle cx="3092" cy="889.6" r="3.5"/><circle cx="3085" cy="901.8" r="3.5"/><circle cx="3092" cy="901.8" r="3.5"/><circle cx="3099" cy="901.8" r="3.5"/>
<circle cx="3114" cy="840.8" r="3.5"/><circle cx="3128" cy="840.8" r="3.5"/><circle cx="3121" cy="853" r="3.5"/><circle cx="3121" cy="865.2" r="3.5"/><circle cx="3121" cy="877.4" r="3.5"/><circle cx="3121" cy="889.6" r="3.5"/><circle cx="3114" cy="914" r="3.5"/><circle cx="3128" cy="914" r="3.5"/><circle cx="3121" cy="938.4" r="3.5"/>
<circle cx="3150" cy="804.2" r="3.5"/><circle cx="3150" cy="865.2" r="3.5"/><circle cx="3150" cy="877.4" r="3.5"/><circle cx="3143" cy="889.6" r="3.5"/><circle cx="3150" cy="889.6" r="3.5"/><circle cx="3157" cy="889.6" r="3.5"/><circle cx="3164" cy="889.6" r="3.5"/><circle cx="3150" cy="901.8" r="3.5"/><circle cx="3150" cy="938.4" r="3.5"/><circle cx="3150" cy="975" r="3.5"/>
<circle cx="3178" cy="840.8" r="3.5"/><circle cx="3178" cy="877.4" r="3.5"/><circle cx="3171" cy="889.6" r="3.5"/><circle cx="3185" cy="889.6" r="3.5"/><circle cx="3171" cy="901.8" r="3.5"/><circle cx="3185" cy="901.8" r="3.5"/><circle cx="3178" cy="914" r="3.5"/><circle cx="3178" cy="926.2" r="3.5"/><circle cx="3178" cy="962.8" r="3.5"/>
</g>
<path class="m" d="M2723 579.6H2747M2735 561.8V598.1M2730 561.8H2740M2730 598.1H2740
M2752 572.9H2776M2764 541.1V604M2759 541.1H2769M2759 604H2769
M2781 569.2H2805M2793 554.4V581.8M2788 554.4H2798M2788 581.8H2798
M2810 570.7H2834M2822 548.5V592.9M2817 548.5H2827M2817 592.9H2827
M2839 581.8H2863M2851 555.9V606.2M2846 555.9H2856M2846 606.2H2856
M2868 568.5H2892M2880 541.1V598.1M2875 541.1H2885M2875 598.1H2885
M3029 578.6H3053M3041 559.2V598.8M3036 559.2H3046M3036 598.8H3046
M3058 571.2H3082M3070 543.6V601.6M3065 543.6H3075M3065 601.6H3075
M3087 566.6H3111M3099 552.8V582.2M3094 552.8H3104M3094 582.2H3104
M3116 569.4H3140M3128 546.4V592.4M3123 546.4H3133M3123 592.4H3133
M3145 578.6H3169M3157 552.8V605.2M3152 552.8H3162M3152 605.2H3162
M3174 563.8H3198M3186 534.4V594.2M3181 534.4H3191M3181 594.2H3191
M2716 894.9H2740M2728 872.1V917.8M2723 872.1H2733M2723 917.8H2733
M2745 878.9H2769M2757 837.8V917.8M2752 837.8H2762M2752 917.8H2762
M2774 883.5H2798M2786 865.2V901.8M2781 865.2H2791M2781 901.8H2791
M2803 883.5H2827M2815 860.6V908.7M2810 860.6H2820M2810 908.7H2820
M2831 901.8H2855M2843 874.4V929.3M2838 874.4H2848M2838 929.3H2848
M2861 897.2H2885M2873 865.2V924.7M2868 865.2H2878M2868 924.7H2878
M3022 892H3046M3034 856.7V926.2M3029 856.7H3039M3029 926.2H3039
M3050 901.8H3074M3062 865.2V938.4M3057 865.2H3067M3057 938.4H3067
M3080 875H3104M3092 853V901.8M3087 853H3097M3087 901.8H3097
M3109 881H3133M3121 846.9V914M3116 846.9H3126M3116 914H3126
M3138 889.6H3162M3150 846.9V938.4M3145 846.9H3155M3145 938.4H3155
M3166 901.8H3190M3178 866.4V934.7M3173 866.4H3183M3173 934.7H3183"/>

<!-- Part 2 -->
<rect x="780" y="1101" width="1678" height="452" rx="6" fill="#ebebeb" filter="url(#sh)"/>
<text x="806" y="1153" class="h" font-size="24" textLength="416" lengthAdjust="spacingAndGlyphs">Part 2. Alternative MADL for Follicle Effects</text>
<text x="806" y="1194" class="h" font-size="17" textLength="523" lengthAdjust="spacingAndGlyphs">Alternative Female Reproductive MADL Based on the Current Study</text>
<g class="t">
<text x="808" y="1224">•</text><text x="821" y="1224">The study NOAEL of 150 ppm Cr(VI) was equivalent to 17.7 mg/kg-day based on</text>
<text x="821" y="1248">bodyweight and intake data. Using OEHHA’s approach for MADL development</text>
<text x="821" y="1271">(which requires a NOEL), their reference female bodyweight of 58 kg, and their</text>
<text x="821" y="1294">default 1000-fold uncertainty adjustment, the MADL would be:</text>
<text x="896" y="1317" font-weight="bold">17.7 mg/kg/day  × 58 kg ÷ 1000 = 1 mg/day (1000 µg/day)</text>
<text x="808" y="1348">•</text><text x="821" y="1348">Experiment 2 in Murthy <tspan font-style="italic">et al.</tspan> (1996) reported reductions in follicle counts in mice</text>
<text x="821" y="1369">exposed to high concentrations of Cr(VI). These concentrations would likely have</text>
<text x="821" y="1390">led to reduced water intake and bodyweight (similar to that in <tspan font-weight="bold">Figure 1</tspan>). Data were</text>
<text x="821" y="1411">not reported to estimate the mg/kg dose, so we modeled follicle count data</text>
<text x="821" y="1432">based on Cr(VI) concentration.</text>
<text x="808" y="1462">•</text><text x="821" y="1462">The BMD<tspan font-size="10" dy="4">1SD</tspan><tspan dy="-4"> and BMDL</tspan><tspan font-size="10" dy="4">1SD</tspan><tspan dy="-4"> for follicle counts were comparable to the current GLP</tspan></text>
<text x="821" y="1483">study NOAEL of 150 ppm Cr(VI); however, it should be noted that the BMD and</text>
<text x="821" y="1504">BMDL values were all below the range of observation due to the high doses</text>
<text x="821" y="1525">employed (<tspan font-weight="bold">Figure 4</tspan>).</text>
</g>
<!-- Figure 4 -->
<rect x="1479" y="1123" width="958" height="409" rx="8" fill="#fff" filter="url(#sh)"/>
<g class="t">
<text x="1500" y="1158" textLength="905" lengthAdjust="spacingAndGlyphs"><tspan font-weight="bold">Figure 4.</tspan> BMD modeling of follicle numbers reported in Murthy <tspan font-style="italic">et al.</tspan> (1996). <tspan font-weight="bold">(A)</tspan> Number of medium follicles after exposure</text>
<text x="1500" y="1180" textLength="905" lengthAdjust="spacingAndGlyphs">to 250-750 ppm Cr(VI) for 20 days (BMD1SD = 119 ppm; BMDL1SD = 86 ppm; p-value = 0.52). (B) Number of large follicles after</text>
<text x="1500" y="1201" textLength="912" lengthAdjust="spacingAndGlyphs">exposure to 250-750 ppm Cr(VI) for 20 days (BMD1SD = 183 ppm; BMDL1SD = 131 ppm; p-value = 0.66). Note that the BMD and</text>
<text x="1500" y="1222">BMDLs are below the range of observation given the high doses employed.</text>
</g>
<text x="1510" y="1276" font-size="20" fill="#222">A</text>
<text x="1990" y="1276" font-size="20" fill="#222">B</text>
<g stroke="#d9d9d9" stroke-width="1">
<path d="M1535 1468H1851M1535 1438.5H1851M1535 1409H1851M1535 1379.5H1851M1535 1350H1851M1535 1320.5H1851M1535 1291H1851"/>
<path d="M2003 1468H2331M2003 1448.3H2331M2003 1428.7H2331M2003 1409H2331M2003 1389.3H2331M2003 1369.7H2331M2003 1350H2331M2003 1330.3H2331M2003 1310.7H2331M2003 1291H2331"/>
</g>
<g stroke-width="2.5" fill="none">
<path d="M1528 1338.2H1579.2" stroke="#a6a6a6"/><path d="M1565 1468V1338.2" stroke="#f2b700"/><path d="M1579.2 1468V1338.2" stroke="#5b9a2e"/>
<path d="M1528 1322 L1581.8 1339.5 L1635.5 1354.9 L1689.3 1368.4 L1743 1380.4 L1796.8 1390.9 L1850.5 1400.2" stroke="#4472c4"/>
<path d="M1996 1330.3H2077.7" stroke="#a6a6a6"/><path d="M2054.5 1468V1330.3" stroke="#f2b700"/><path d="M2077.7 1468V1330.3" stroke="#5b9a2e"/>
<path d="M1996 1318.5 L2051.8 1326.6 L2107.6 1338.2 L2163.4 1353.4 L2219.2 1372.2 L2275 1394.8 L2330.8 1420.8" stroke="#4472c4"/>
</g>
<g stroke="#000" stroke-width="1" fill="none">
<path d="M1528 1307.2V1341.2M1526 1307.2H1530M1635.5 1348.5V1360.3M1633 1348.5H1638M1633 1360.3H1638M1743 1366.2V1386.9M1740.5 1366.2H1745.5M1740.5 1386.9H1745.5M1850.5 1392.8V1407.5M1848 1392.8H1853M1848 1407.5H1853"/>
<path d="M1996 1310.7V1326.4M1994 1310.7H1998M2107.6 1330.3V1346.1M2105 1330.3H2110M2105 1346.1H2110M2219.2 1355.9V1373.6M2216.7 1355.9H2221.7M2216.7 1373.6H2221.7M2330.8 1409V1432.6M2328.3 1409H2333.3M2328.3 1432.6H2333.3"/>
</g>
<g fill="none" stroke="#ed7d31" stroke-width="1">
<circle cx="1528" cy="1322" r="2.5"/><circle cx="1635.5" cy="1354.4" r="2.5"/><circle cx="1743" cy="1376.5" r="2.5"/><circle cx="1850.5" cy="1400.2" r="2.5"/>
<circle cx="1996" cy="1318.5" r="2.5"/><circle cx="2107.6" cy="1338.2" r="2.5"/><circle cx="2219.2" cy="1365.7" r="2.5"/><circle cx="2330.8" cy="1420.8" r="2.5"/>
</g>
<g font-size="5" fill="#666" text-anchor="middle">
<text x="1520" y="1470">0</text><text x="1520" y="1441">2</text><text x="1520" y="1411">4</text><text x="1520" y="1382">6</text><text x="1520" y="1352">8</text><text x="1520" y="1323">10</text><text x="1520" y="1293">12</text>
<text x="1528" y="1478">0</text><text x="1571" y="1478">100</text><text x="1614" y="1478">200</text><text x="1657" y="1478">300</text><text x="1700" y="1478">400</text><text x="1743" y="1478">500</text><text x="1786" y="1478">600</text><text x="1829" y="1478">700</text>
<text x="1690" y="1490">Dose</text>
<text x="1990" y="1470">0</text><text x="1990" y="1450">1</text><text x="1990" y="1431">2</text><text x="1990" y="1411">3</text><text x="1990" y="1392">4</text><text x="1990" y="1372">5</text><text x="1990" y="1352">6</text><text x="1990" y="1333">7</text><text x="1990" y="1313">8</text><text x="1990" y="1293">9</text>
<text x="1996" y="1478">0</text><text x="2040.6" y="1478">100</text><text x="2085.3" y="1478">200</text><text x="2129.9" y="1478">300</text><text x="2174.6" y="1478">400</text><text x="2219.2" y="1478">500</text><text x="2263.8" y="1478">600</text><text x="2308.5" y="1478">700</text>
<text x="2165" y="1490">Dose</text>
<text transform="translate(1512,1380) rotate(-90)">Mean Response</text>
<text transform="translate(1982,1380) rotate(-90)">Mean Response</text>
</g>
<g stroke-width="1.5">
<path d="M1866 1366H1880" stroke="#4472c4"/><path d="M1866 1379H1880" stroke="#a6a6a6"/><path d="M1866 1406H1880" stroke="#5b9a2e"/><path d="M1866 1419H1880" stroke="#f2b700"/>
<path d="M2344 1366H2358" stroke="#4472c4"/><path d="M2344 1379H2358" stroke="#a6a6a6"/><path d="M2344 1406H2358" stroke="#5b9a2e"/><path d="M2344 1419H2358" stroke="#f2b700"/>
</g>
<circle cx="1873" cy="1393" r="1.5" fill="none" stroke="#ed7d31"/><circle cx="2351" cy="1393" r="1.5" fill="none" stroke="#ed7d31"/>
<g class="lg">
<text x="1882" y="1368">Estimated Probability</text><text x="1882" y="1381">Response at BMD</text><text x="1882" y="1395">Data</text><text x="1882" y="1408">BMD</text><text x="1882" y="1421">BMDL</text>
<text x="2360" y="1368">Estimated Probability</text><text x="2360" y="1381">Response at BMD</text><text x="2360" y="1395">Data</text><text x="2360" y="1408">BMD</text><text x="2360" y="1421">BMDL</text>
</g>

<!-- Summary -->
<text x="2520" y="1124" class="h" font-size="28" textLength="128" lengthAdjust="spacingAndGlyphs">Summary</text>
<g class="t" font-size="16.5">
<text x="2521" y="1155">•</text><text x="2533" y="1155">Murthy et al. (1996) serves as the basis for the Prop 65 MADL value of 8.2 µg/day, but has design</text>
<text x="2533" y="1175">and reporting issues that limit the ability to assess the effects of Cr(VI) on mouse uterine follicles</text>
<text x="2533" y="1196">at environmental exposure levels.</text>
<text x="2521" y="1226">•</text><text x="2533" y="1226">A new GLP study shows no adverse effects on mouse uterine follicles following exposures up to</text>
<text x="2533" y="1246">150 ppm Cr(VI) for 90 days</text>
<text x="2544" y="1277">ₒ</text><text x="2556" y="1277">There were no microscopic changes in the adrenal glands, pituitary gland, thyroid/parathyroid</text>
<text x="2556" y="1298">glands, mammary glands, vagina, or corpus and cervix uteri.</text>
<text x="2544" y="1328">ₒ</text><text x="2556" y="1328">The study NOAEL is 150 ppm for effects on follicles.</text>
<text x="2521" y="1358">•</text><text x="2533" y="1358">Although data in Murthy et al. (1996) indicate that Cr(VI) might effect follicle counts at</text>
<text x="2533" y="1379">concentrations above 200 ppm, the relevance of these effects at such high exposures is</text>
<text x="2533" y="1400">questionable given portal of entry effects that occur at lower concentrations.</text>
</g>
<g class="ref">
<text x="2520" y="1432" font-size="7"><tspan font-weight="bold">Acknowledgements:</tspan> This work was supported by the Cr(VI) Panel of the ACC.</text>
<text x="2520" y="1448" font-size="6.5" font-weight="bold">References</text>
<text x="2520" y="1456">OEHHA, Proposition 65 oral maximum allowable dose level (MADL) for developmental and reproductive toxicity</text>
<text x="2520" y="1462">for chromium (hexavalent compounds). Office of Environmental Health Hazard Assessment Reproductive and</text>
<text x="2520" y="1468">Cancer Hazard Assessment Branch, (2010).</text>
<text x="2520" y="1476">R. C. Murthy, M. Junaid, D. K. Saxena, Ovarian dysfunction in mice following chromium (VI) exposure. Toxicol Lett</text>
<text x="2520" y="1482">89, 147-154 (1996).</text>
<text x="2520" y="1490">ILAR, Guide for the Care and Use of Laboratory Animals. Institute of Laboratory Animal Resources, (2011).</text>
<text x="2520" y="1498">OPPTS, 90-Day Oral Toxicity in Rodents. The Office of Prevention, Pesticides &amp; Toxic Substances, (1998).</text>
<text x="2520" y="1507">C. Borgeest, D. Symonds, L. P. Mayer, P. B. Hoyer, J. A. Flaws, Methoxychlor may cause ovarian follicular atresia</text>
<text x="2520" y="1513">and proliferation of the ovarian epithelium in the mouse. Toxicol Sci 68, 473-478 (2002).</text>
<text x="2520" y="1522">D. Dixon et al., Nonproliferative and proliferative lesions of the rat and mouse female reproductive system.</text>
<text x="2520" y="1528">Journal of toxicologic pathology 27, 1S-107S (2014).</text>
<text x="2917" y="1456">A. G. Byskov, in Ovarian and Follicular Development and Function, A. R. Midgley, W. A. Sadler, Eds.</text>
<text x="2917" y="1462">(Raven Press, New York, 1979).</text>
<text x="2917" y="1470">P. Osman, Rate and course of atresia during follicular development in the adult cyclic rat. J Reprod Fertil</text>
<text x="2917" y="1476">73, 261-270 (1985).</text>
<text x="2917" y="1485">NTP, National Toxicology Program technical report on the toxicology and carcinogenesis studies of</text>
<text x="2917" y="1491">sodium dichromate dihydrate (CAS No. 7789-12-0) in F344/N rats and B6C3F1 mice (drinking water</text>
<text x="2917" y="1497">studies), NTP TR 546. NIH Publication No. 08-5887, (2008).</text>
<text x="2917" y="1506">P. Greaves, Histopathology of Preclinical Toxicity Studies. (Elsevier-Academic Press, London, ed. 4th,</text>
<text x="2917" y="1512">2012).</text>
<text x="2917" y="1521">M. S. Marty et al., Distinguishing between endocrine disruption and non-specific effects on endocrine</text>
<text x="2917" y="1527">systems. Regul Toxicol Pharmacol 99, 142-158 (2018).</text>
</g>
</svg>
</body></html>
